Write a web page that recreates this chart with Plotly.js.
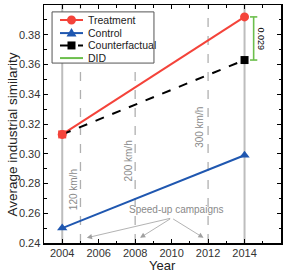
<!DOCTYPE html>
<html>
<head>
<meta charset="utf-8">
<script src="https://cdn.plot.ly/plotly-3.0.1.min.js"></script>
<style>html,body{margin:0;padding:0;background:#fff;}#chart{width:291px;height:272px;}</style>
</head>
<body>
<div id="chart"></div>
<script>
// ---- data ----
const years = [2004, 2014];
const treatment = [0.313, 0.392];
const control = [0.250, 0.299];
const counterfactual = [0.313, 0.363];
const seriesNames = ['Treatment', 'Control', 'Counterfactual', 'DID'];
const eventYears = [2005, 2008, 2012];
const speedLabels = ['120 km/h', '200 km/h', '300 km/h'];
const speedLabelX = [2004.63, 2007.62, 2011.55];
const speedLabelY = [0.276, 0.295, 0.318];
const campaignLabel = 'Speed-up campaigns';
const arrowTipX = [2005.35, 2008.27, 2011.75];
const xTickVals = [2004, 2006, 2008, 2010, 2012, 2014, 2016];
const yTickVals = [0.24, 0.26, 0.28, 0.30, 0.32, 0.34, 0.36, 0.38, 0.40];
const xTitle = 'Year';
const yTitle = 'Average industrial similarity';

const RED = '#f4433a', BLUE = '#1f57b0', BLACK = '#000000', GREEN = '#6cbf4c';
const did = treatment[1] - counterfactual[1];
const didX = 2014.5, capHalf = 0.2;

const traces = [
  {x: years, y: treatment, mode: 'lines+markers', name: seriesNames[0],
   line: {color: RED, width: 2}, marker: {symbol: 'circle', size: 9, color: RED}},
  {x: years, y: counterfactual, mode: 'lines+markers', name: seriesNames[2],
   line: {color: BLACK, width: 2, dash: 'dash'}, marker: {symbol: 'square', size: 8, color: [RED, BLACK]}},
  {x: years, y: control, mode: 'lines+markers', name: seriesNames[1],
   line: {color: BLUE, width: 2}, marker: {symbol: 'triangle-up', size: 9, color: BLUE}},
  {x: [didX - capHalf, didX + capHalf, null, didX, didX, null, didX - capHalf, didX + capHalf],
   y: [treatment[1], treatment[1], null, treatment[1], counterfactual[1], null, counterfactual[1], counterfactual[1]],
   mode: 'lines', name: seriesNames[3], line: {color: GREEN, width: 1.6}}
];

const shapes = [];
years.forEach(yr => shapes.push({type: 'line', xref: 'x', yref: 'paper', x0: yr, x1: yr, y0: 0, y1: 1,
  line: {color: '#bdbdbd', width: 2}, layer: 'below'}));
eventYears.forEach(yr => shapes.push({type: 'line', xref: 'x', yref: 'paper', x0: yr, x1: yr, y0: 0, y1: 1,
  line: {color: '#b0b0b0', width: 1.3, dash: 'dash'}, layer: 'below'}));

const annotations = [];
speedLabels.forEach((t, i) => annotations.push({x: speedLabelX[i], y: speedLabelY[i], xref: 'x', yref: 'y',
  text: t, showarrow: false, textangle: -90, font: {size: 10, color: '#8a8a8a'}}));
annotations.push({x: 2010.25, y: 0.2622, xref: 'x', yref: 'y', text: campaignLabel, showarrow: false,
  font: {size: 10, color: '#8a8a8a'}});
arrowTipX.forEach(ax => annotations.push({x: ax, y: 0.2435, xref: 'x', yref: 'y', axref: 'x', ayref: 'y',
  ax: 2010.0, ay: 0.2568, text: '', showarrow: true, arrowhead: 2, arrowsize: 1.3, arrowwidth: 0.8,
  arrowcolor: '#a0a0a0', standoff: 0}));
annotations.push({x: 2014.85, y: (treatment[1] + counterfactual[1]) / 2, xref: 'x', yref: 'y',
  text: did.toFixed(3), showarrow: false, textangle: 90, font: {size: 9, color: '#000'}});
// axis titles
annotations.push({x: -0.1329, y: 0.454, xref: 'paper', yref: 'paper', xanchor: 'center', yanchor: 'middle',
  text: yTitle, showarrow: false, textangle: -90, font: {size: 13.5, color: '#222'}});
annotations.push({x: 0.5, y: -0.0966, xref: 'paper', yref: 'paper', xanchor: 'center', yanchor: 'middle',
  text: xTitle, showarrow: false, font: {size: 13, color: '#222'}});

// manual legend (paper coords)
const lgBox = {x0: 0.034, x1: 0.464, y0: 0.756, y1: 0.971};
shapes.push({type: 'rect', xref: 'paper', yref: 'paper', x0: lgBox.x0, x1: lgBox.x1, y0: lgBox.y0, y1: lgBox.y1,
  line: {color: '#555', width: 1}, fillcolor: '#ffffff', layer: 'above'});
const lgY = [0.937, 0.882, 0.830, 0.777];
const lgColors = [RED, BLUE, BLACK, GREEN];
const lgDash = ['solid', 'solid', 'dash', 'solid'];
const lgLineX0 = 0.0675, lgLineX1 = 0.1646, lgMarkX = 0.116;
lgY.forEach((y, i) => {
  shapes.push({type: 'line', xref: 'paper', yref: 'paper', x0: lgLineX0, x1: lgLineX1, y0: y, y1: y,
    line: {color: lgColors[i], width: 2, dash: lgDash[i]}, layer: 'above'});
  annotations.push({x: 0.177, y: y, xref: 'paper', yref: 'paper', xanchor: 'left', yanchor: 'middle',
    text: seriesNames[i], showarrow: false, font: {size: 10.5, color: '#222'}});
});
shapes.push({type: 'circle', xref: 'paper', yref: 'paper', xsizemode: 'pixel', ysizemode: 'pixel',
  xanchor: lgMarkX, yanchor: lgY[0], x0: -4.5, x1: 4.5, y0: -4.5, y1: 4.5,
  fillcolor: RED, line: {width: 0}, layer: 'above'});
shapes.push({type: 'path', xref: 'paper', yref: 'paper', xsizemode: 'pixel', ysizemode: 'pixel',
  xanchor: lgMarkX, yanchor: lgY[1], path: 'M -5 -3.5 L 5 -3.5 L 0 5 Z',
  fillcolor: BLUE, line: {width: 0}, layer: 'above'});
shapes.push({type: 'rect', xref: 'paper', yref: 'paper', xsizemode: 'pixel', ysizemode: 'pixel',
  xanchor: lgMarkX, yanchor: lgY[2], x0: -4, x1: 4, y0: -4, y1: 4,
  fillcolor: BLACK, line: {width: 0}, layer: 'above'});

const axisCommon = {showline: true, linecolor: '#000', linewidth: 1.5, mirror: 'ticks', ticks: 'inside',
  ticklen: 4, tickcolor: '#000', tickwidth: 1, showgrid: false, zeroline: false,
  tickfont: {family: 'Liberation Sans, Arial, sans-serif', size: 11, color: '#333'}};

const layout = {
  width: 291, height: 272,
  margin: {l: 44, r: 10, t: 5, b: 29},
  paper_bgcolor: '#fff', plot_bgcolor: '#fff',
  font: {family: 'Liberation Sans, Arial, sans-serif'},
  showlegend: false,
  xaxis: Object.assign({}, axisCommon, {range: [2003, 2016], tickvals: xTickVals, ticklabelstandoff: -1,
    minor: {dtick: 1, ticks: 'inside', ticklen: 2.5, tickcolor: '#000', showgrid: false}}),
  yaxis: Object.assign({}, axisCommon, {range: [0.24, 0.40], tickvals: yTickVals, tickformat: '.2f',
    minor: {dtick: 0.01, ticks: 'inside', ticklen: 2.5, tickcolor: '#000', showgrid: false}}),
  shapes: shapes,
  annotations: annotations
};

Plotly.newPlot('chart', traces, layout, {displayModeBar: false, staticPlot: true});
</script>
</body>
</html>
